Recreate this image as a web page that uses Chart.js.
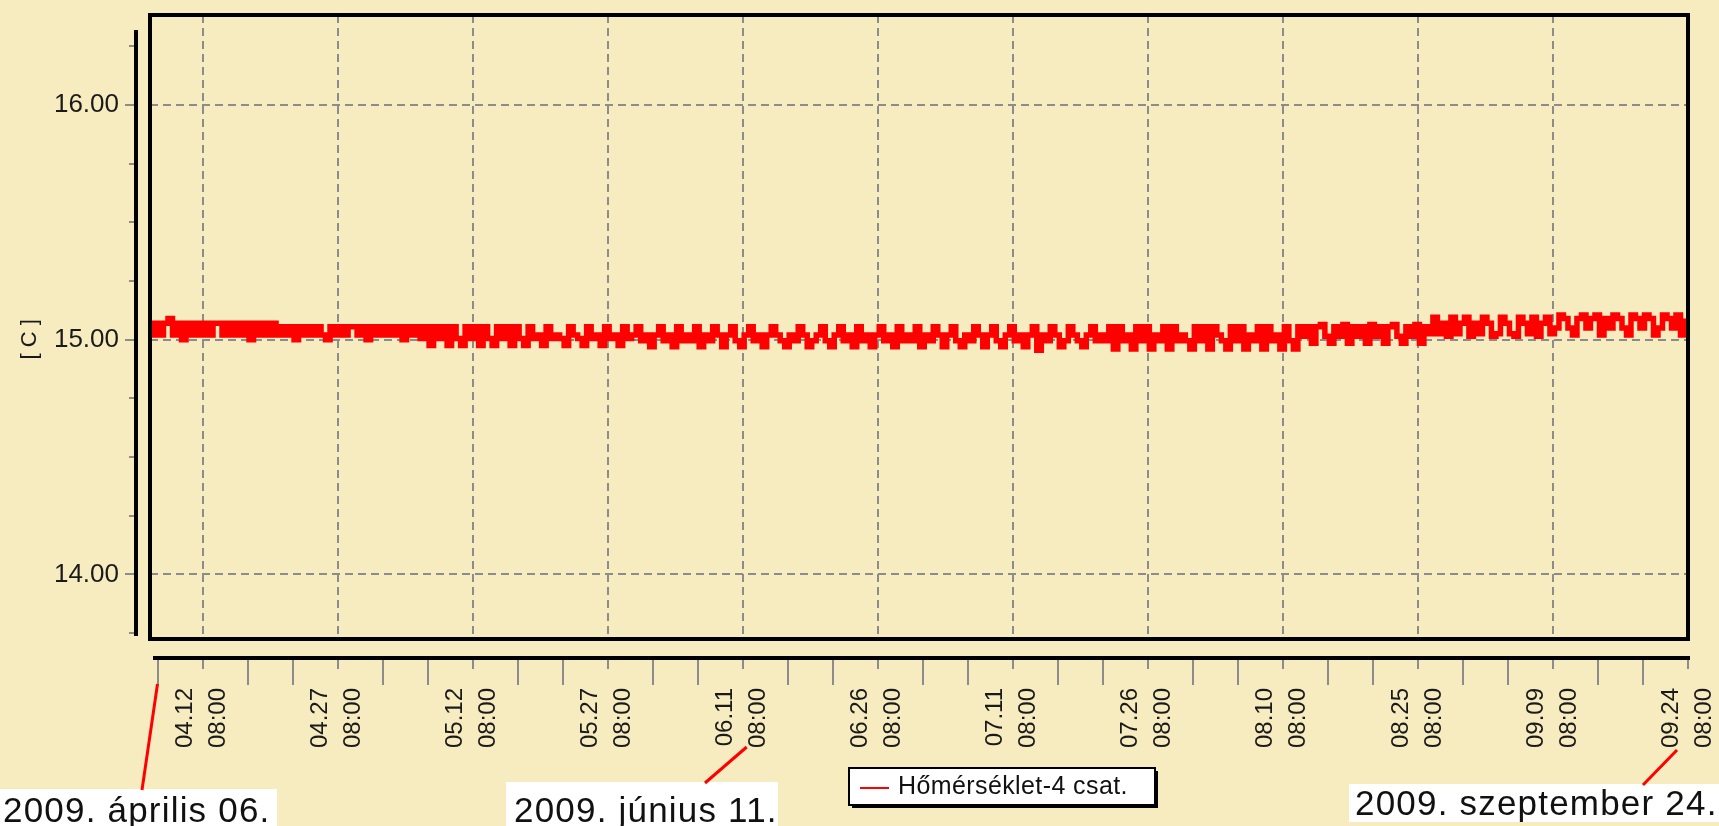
<!DOCTYPE html>
<html>
<head>
<meta charset="utf-8">
<script src="https://cdn.jsdelivr.net/npm/chart.js@4.4.1/dist/chart.umd.min.js"></script>
<style>
  html, body { margin: 0; padding: 0; background: #f7ebc0; }
  #wrap { width: 1719px; height: 826px; }
</style>
</head>
<body>
<div id="wrap"><canvas id="tempChart" width="1719" height="826"></canvas></div>
<script>
// readings (°C), one every half day starting 2009-04-06 12:00
const temp0406 = [15.02,15.07,15.02,15.07,15.09,15.02,15.07,15.00,15.07,15.02,15.07,15.02,15.07,15.02,
  15.07,15.07,15.02,15.07,15.02,15.07,15.02,15.07,15.00,15.07,15.02,15.07,15.02,15.07];
const temp0420 = [15.02,15.055,15.02,15.055,15.00,15.055,15.02,15.055,15.02,15.055,
  15.02,15.00,15.055,15.02,15.055,15.02,15.055,15.055,15.02,15.055,
  15.00,15.055,15.02,15.055,15.02,15.055,15.02,15.055,15.00,15.055,15.02,15.055];
const temp0506 = [15.005,15.055,14.975,15.055,15.005,15.055,14.975,15.055,15.005,14.975,15.055,15.005,
  15.055,14.975,15.055,15.005,14.975,15.055,15.005,15.055,14.975,15.055,15.005,14.975,
  15.055,15.005,15.02,14.975,15.055,15.005,15.02,15.005,14.975,15.055,15.02,15.005,
  14.975,15.055,15.005,15.02,14.975,15.055,15.005,15.02,14.975,15.055,15.005,15.02];
const temp0530 = [15.055,14.995,15.02,14.97,15.02,15.055,14.995,15.02,14.97,15.055,14.995,15.02,14.995,
  15.055,14.97,15.02,14.995,15.055,15.02,14.97,15.02,15.055,14.995,14.97,15.02,15.055,
  14.995,15.02,14.97,15.02,15.055,15.02,14.995,14.97,15.02,14.995,15.055,15.02,14.97,
  14.995,15.02,15.055,14.995,14.97,15.02,15.055,14.995,15.02,14.97,15.055,14.995,15.02];
const temp0625 = [14.97,15.02,15.055,14.995,15.02,14.97,15.055,14.995,15.02,14.995,15.055,14.97,15.02,
  14.995,15.055,15.02,14.97,15.02,15.055,14.995,14.97,15.02,14.995,15.055,15.02,14.97,
  15.02,15.055,14.995,14.97,15.02,15.055,14.995,15.02,14.97,15.02,15.055,14.955,15.02,
  14.995,15.055,15.02,14.97,14.995,15.055,15.02,14.995,14.97,15.02,15.055,14.995,15.02];
const temp0721 = [14.995,15.055,14.96,15.055,14.995,15.02,14.96,15.055,14.995,15.055,14.96,
  15.02,14.995,15.055,14.96,15.055,14.995,15.02,14.995,14.96,15.055,14.995,
  15.055,14.96,15.055,15.02,14.995,14.96,15.055,14.995,15.055,14.96,15.02,
  14.995,15.055,14.96,15.055,14.995,15.02,14.96,15.055,14.995,14.96,15.055];
const temp0812 = [15.015,15.055,14.985,15.055,15.065,15.015,14.985,15.055,15.015,15.065,14.985,15.055,15.015,15.055,
  14.985,15.065,15.015,15.055,14.985,15.055,15.065,15.015,14.985,15.055,15.015,15.065,14.985,15.055];
const temp0826 = [15.025,15.095,15.025,15.07,15.015,15.095,15.025,15.07,15.095,15.015,15.07,15.025,15.095,15.07,
  15.015,15.025,15.095,15.07,15.025,15.015,15.095,15.07,15.025,15.095,15.015,15.07,15.095,15.025];
const temp0909 = [15.05,15.105,15.09,15.05,15.02,15.09,15.105,15.05,15.09,15.105,15.02,15.09,15.05,15.105,15.09,
  15.05,15.02,15.105,15.09,15.05,15.105,15.09,15.02,15.05,15.105,15.09,15.05,15.105,15.02,15.09];

const seriesLabel = 'Hőmérséklet-4 csat.';
const tickDates = ['04.12', '04.27', '05.12', '05.27', '06.11', '06.26',
  '07.11', '07.26', '08.10', '08.25', '09.09', '09.24'];
const tickTime = '08:00';
const yTicks = [14, 15, 16];
const noteTexts = ['2009. április 06.', '2009. június 11.', '2009. szeptember 24.'];
const noteAnchors = ['04.07', '06.11', '09.24'];

// days counted from 2009-04-06 00:00
const dayOf = md => {
  const [m, d] = md.split('.').map(Number);
  return (Date.UTC(2009, m - 1, d, 8) - Date.UTC(2009, 3, 6)) / 864e5;
};
const sampleStart = 0.5, sampleStep = 0.5;
const tickDays = tickDates.map(dayOf);

const temps = [].concat(temp0406, temp0420, temp0506, temp0530, temp0625,
  temp0721, temp0812, temp0826, temp0909);
const points = temps.map((t, i) => ({ x: sampleStart + i * sampleStep, y: t }));

const FONT = '"Liberation Sans", Arial, sans-serif';
Chart.defaults.font.family = FONT;

const decor = {
  id: 'decor',
  afterDatasetsDraw(chart) {
    const { ctx, chartArea: a, scales: { x, y } } = chart;
    ctx.save();

    // plot frame
    ctx.strokeStyle = '#000';
    ctx.lineWidth = 4;
    ctx.strokeRect(a.left, a.top, a.right - a.left, a.bottom - a.top);

    // detached y axis
    const ax = a.left - 14;
    ctx.beginPath();
    ctx.moveTo(ax, a.top + 15);
    ctx.lineTo(ax, a.bottom - 3);
    ctx.stroke();
    ctx.strokeStyle = '#8c8c8c';
    ctx.lineWidth = 2;
    for (let k = 55; k <= 65; k++) {
      const v = k / 4;
      const py = Math.round(y.getPixelForValue(v));
      const len = yTicks.includes(v) ? 9 : 5;
      ctx.beginPath();
      ctx.moveTo(ax - 2 - len, py);
      ctx.lineTo(ax - 2, py);
      ctx.stroke();
    }

    // detached x axis
    const ay = a.bottom + 19;
    ctx.strokeStyle = '#000';
    ctx.lineWidth = 4;
    ctx.beginPath();
    ctx.moveTo(a.left + 3, ay);
    ctx.lineTo(a.right + 2, ay);
    ctx.stroke();
    ctx.strokeStyle = '#8c8c8c';
    ctx.lineWidth = 2;
    tickDays.forEach(d => {
      const px = Math.round(x.getPixelForValue(d));
      ctx.beginPath();
      ctx.moveTo(px, ay + 2);
      ctx.lineTo(px, ay + 11);
      ctx.stroke();
      [-10, -5].forEach(off => {
        if (d + off < x.min) return;
        const mx = Math.round(x.getPixelForValue(d + off));
        ctx.beginPath();
        ctx.moveTo(mx, ay + 2);
        ctx.lineTo(mx, ay + 27);
        ctx.stroke();
      });
    });

    // date notes with red pointers
    const noteBoxes = [
      { box: [0, 789, 277, 37], text: [3, 822], dx: 0, top: ay + 26, end: [142, 790] },
      { box: [506, 782, 272, 44], text: [514, 822], dx: 4, top: ay + 89, end: [705, 783] },
      { box: [1349, 784, 370, 38], text: [1355, 815], dx: -11, top: ay + 92, end: [1643, 785] }
    ];
    noteBoxes.forEach((n, i) => {
      ctx.fillStyle = '#fff';
      ctx.fillRect(...n.box);
      ctx.fillStyle = '#111';
      ctx.font = '35px ' + FONT;
      ctx.letterSpacing = '1.2px';
      ctx.textAlign = 'left';
      ctx.textBaseline = 'alphabetic';
      ctx.fillText(noteTexts[i], n.text[0], n.text[1]);
      ctx.letterSpacing = '0px';
      const px = x.getPixelForValue(dayOf(noteAnchors[i])) + n.dx;
      ctx.strokeStyle = '#ff0000';
      ctx.lineWidth = 3;
      ctx.beginPath();
      ctx.moveTo(px, n.top);
      ctx.lineTo(n.end[0], n.end[1]);
      ctx.stroke();
    });

    // legend
    const lx = 849, ly = 768, lw = 306, lh = 37;
    ctx.fillStyle = '#000';
    ctx.fillRect(lx + 3, ly + 3, lw, lh);
    ctx.fillStyle = '#fff';
    ctx.fillRect(lx, ly, lw, lh);
    ctx.strokeStyle = '#000';
    ctx.lineWidth = 2;
    ctx.strokeRect(lx, ly, lw, lh);
    const ds = chart.data.datasets[0];
    ctx.strokeStyle = ds.borderColor;
    ctx.beginPath();
    ctx.moveTo(lx + 11, ly + 20);
    ctx.lineTo(lx + 40, ly + 20);
    ctx.stroke();
    ctx.fillStyle = '#111';
    ctx.font = '25px ' + FONT;
    ctx.letterSpacing = '0.4px';
    ctx.textBaseline = 'middle';
    ctx.fillText(ds.label, lx + 49, ly + 19);
    ctx.restore();
  }
};

new Chart(document.getElementById('tempChart'), {
  type: 'line',
  data: {
    datasets: [{
      label: seriesLabel,
      data: points,
      borderColor: '#ff0000',
      borderWidth: 5.5,
      stepped: true,
      pointRadius: 0,
      fill: false
    }]
  },
  options: {
    responsive: false,
    animation: false,
    layout: { padding: { top: 15, right: 31, left: 0, bottom: 0 } },
    plugins: { legend: { display: false }, tooltip: { enabled: false } },
    scales: {
      x: {
        type: 'linear',
        min: 0.5,
        max: dayOf('09.24'),
        afterBuildTicks: s => { s.ticks = tickDays.map(v => ({ value: v })); },
        afterFit: s => { s.height = 187; s.paddingLeft = 0; s.paddingRight = 0; },
        grid: { color: '#8c8c8c', lineWidth: 2, drawTicks: false },
        border: { display: false, dash: [8, 5] },
        ticks: {
          autoSkip: false,
          maxRotation: 90,
          minRotation: 90,
          padding: 49,
          labelOffset: -17,
          color: '#1a1a1a',
          font: { size: 24, lineHeight: 1.375 },
          callback: (v, i) => [tickDates[i], tickTime]
        }
      },
      y: {
        min: 13.725,
        max: 16.383,
        afterBuildTicks: s => { s.ticks = yTicks.map(v => ({ value: v })); },
        afterFit: s => { s.width = 150; s.paddingTop = 0; s.paddingBottom = 0; },
        grid: { color: '#8c8c8c', lineWidth: 2, drawTicks: false },
        border: { display: false, dash: [8, 5] },
        ticks: {
          padding: 31,
          color: '#1a1a1a',
          font: { size: 26 },
          callback: v => v.toFixed(2)
        },
        title: {
          display: true,
          text: '[ C ]    ',
          color: '#1a1a1a',
          font: { size: 22 },
          padding: { top: 17, bottom: 0 }
        }
      }
    }
  },
  plugins: [decor]
});
</script>
</body>
</html>
